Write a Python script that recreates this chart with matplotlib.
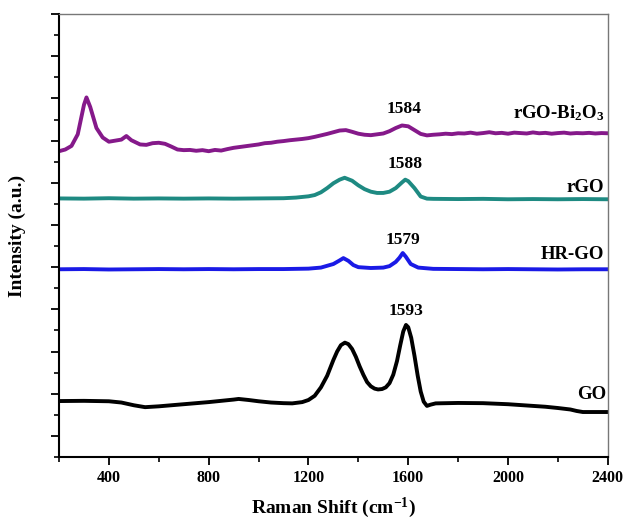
import matplotlib
matplotlib.use("Agg")
import matplotlib.pyplot as plt
from matplotlib.ticker import MultipleLocator

plt.rcParams['font.family'] = ['Liberation Serif', 'DejaVu Serif']
plt.rcParams['font.weight'] = 'bold'
plt.rcParams['mathtext.fontset'] = 'custom'
plt.rcParams['mathtext.rm'] = 'Liberation Serif:bold'
plt.rcParams['mathtext.it'] = 'Liberation Serif:bold'
plt.rcParams['mathtext.bf'] = 'Liberation Serif:bold'

# GO
go_x = [200, 300, 400, 450, 500, 545, 600, 700, 800, 900, 920, 960, 1000, 1050,
        1100, 1135, 1175, 1200, 1225, 1250, 1275, 1290, 1300, 1315, 1330, 1346,
        1360, 1375, 1390, 1405, 1420, 1435, 1450, 1465, 1479, 1495, 1510, 1525,
        1540, 1555, 1568, 1580, 1591, 1600, 1612, 1625, 1638, 1650, 1662, 1675,
        1690, 1710, 1800, 1900, 2000, 2100, 2150, 2200, 2250, 2275, 2300, 2400]
go_y = [2.65, 2.66, 2.64, 2.58, 2.45, 2.36, 2.40, 2.50, 2.60, 2.72, 2.75, 2.70,
        2.64, 2.58, 2.55, 2.54, 2.60, 2.70, 2.90, 3.30, 3.85, 4.30, 4.60, 5.00,
        5.30, 5.42, 5.35, 5.12, 4.75, 4.30, 3.90, 3.55, 3.35, 3.24, 3.20, 3.22,
        3.30, 3.50, 3.90, 4.55, 5.30, 5.95, 6.26, 6.15, 5.65, 4.80, 3.85, 3.10,
        2.62, 2.42, 2.48, 2.54, 2.56, 2.55, 2.50, 2.42, 2.38, 2.32, 2.25, 2.18,
        2.13, 2.13]

# HR-GO
hrgo_x = [200, 300, 400, 500, 600, 700, 800, 900, 1000, 1100, 1200, 1250, 1300,
          1325, 1340, 1360, 1380, 1400, 1450, 1500, 1525, 1550, 1565, 1578, 1590,
          1610, 1640, 1700, 1800, 1900, 2000, 2100, 2200, 2300, 2400]
hrgo_y = [8.90, 8.91, 8.89, 8.90, 8.91, 8.90, 8.91, 8.90, 8.91, 8.91, 8.93, 8.98,
          9.15, 9.32, 9.43, 9.30, 9.10, 9.00, 8.96, 8.98, 9.05, 9.25, 9.45, 9.67,
          9.50, 9.15, 8.98, 8.92, 8.91, 8.90, 8.91, 8.90, 8.89, 8.90, 8.90]

# rGO
rgo_x = [200, 300, 400, 500, 600, 700, 800, 900, 1000, 1100, 1150, 1200, 1225,
         1250, 1275, 1300, 1325, 1345, 1375, 1400, 1425, 1450, 1475, 1500, 1525,
         1550, 1575, 1588, 1600, 1625, 1650, 1675, 1700, 1800, 1900, 2000, 2100,
         2200, 2300, 2400]
rgo_y = [12.26, 12.25, 12.27, 12.25, 12.26, 12.25, 12.26, 12.25, 12.26, 12.27,
         12.30, 12.36, 12.42, 12.55, 12.75, 12.98, 13.15, 13.24, 13.10, 12.88,
         12.70, 12.58, 12.52, 12.52, 12.58, 12.75, 13.02, 13.15, 13.08, 12.75,
         12.35, 12.25, 12.24, 12.23, 12.24, 12.22, 12.23, 12.22, 12.23, 12.22]

# rGO-Bi2O3
bi_x = [200, 225, 250, 275, 300, 310, 325, 350, 375, 400, 425, 450, 470, 490,
        525, 550, 575, 600, 625, 650, 675, 700, 725, 750, 775, 800, 825, 850,
        875, 900, 925, 950, 975, 1000, 1025, 1050, 1075, 1100, 1125, 1150, 1175,
        1200, 1225, 1250, 1275, 1300, 1325, 1350, 1375, 1400, 1425, 1450, 1475,
        1500, 1525, 1550, 1575, 1600, 1625, 1650, 1675, 1700, 1725, 1750, 1775,
        1800, 1825, 1850, 1875, 1900, 1925, 1950, 1975, 2000, 2025, 2050, 2075,
        2100, 2125, 2150, 2175, 2200, 2225, 2250, 2275, 2300, 2325, 2350, 2375,
        2400]
bi_y = [14.50, 14.58, 14.75, 15.30, 16.70, 17.05, 16.60, 15.60, 15.15, 14.95,
        15.00, 15.05, 15.22, 15.02, 14.82, 14.80, 14.88, 14.90, 14.85, 14.72,
        14.58, 14.55, 14.56, 14.52, 14.55, 14.50, 14.56, 14.53, 14.60, 14.66,
        14.70, 14.74, 14.78, 14.82, 14.88, 14.90, 14.95, 14.98, 15.02, 15.05,
        15.08, 15.12, 15.18, 15.25, 15.32, 15.40, 15.48, 15.50, 15.42, 15.33,
        15.28, 15.26, 15.30, 15.34, 15.45, 15.60, 15.72, 15.68, 15.50, 15.32,
        15.25, 15.28, 15.30, 15.33, 15.31, 15.35, 15.34, 15.38, 15.33, 15.36,
        15.40, 15.35, 15.37, 15.33, 15.38, 15.36, 15.34, 15.39, 15.35, 15.37,
        15.33, 15.36, 15.38, 15.34, 15.36, 15.35, 15.37, 15.34, 15.36, 15.35]

fig = plt.figure(figsize=(6.24, 5.24), dpi=100)
ax = fig.add_axes([0.0946, 0.128, 0.8794, 0.845])

ax.plot(go_x, go_y, color='black', lw=2.8)
ax.plot(hrgo_x, hrgo_y, color='#1a1ae6', lw=2.8)
ax.plot(rgo_x, rgo_y, color='#1e8a82', lw=2.8)
ax.plot(bi_x, bi_y, color='#85198a', lw=2.8)

ax.set_xlim(200, 2400)
ax.set_ylim(0, 21)
ax.xaxis.set_major_locator(MultipleLocator(400))
ax.xaxis.set_minor_locator(MultipleLocator(200))
ax.set_xticks([400, 800, 1200, 1600, 2000, 2400])
ax.yaxis.set_major_locator(MultipleLocator(2, offset=1))
ax.yaxis.set_minor_locator(MultipleLocator(2))
ax.set_yticklabels([])
ax.tick_params(which='major', direction='out', length=6, width=1.3, labelsize=11.5)
ax.tick_params(which='minor', direction='out', length=3.5, width=1.2)

for s in ['top', 'right']:
    ax.spines[s].set_color('#777777')
    ax.spines[s].set_linewidth(1.0)
for s in ['left', 'bottom']:
    ax.spines[s].set_linewidth(1.5)

ax.set_xlabel(r'Raman Shift (cm$^{-1}$)', fontsize=14, fontweight='bold', labelpad=7)
ax.set_ylabel('Intensity (a.u.)', fontsize=14, fontweight='bold', labelpad=14)

fs = 12.5
ns = 13.5
ax.text(1584, 16.5, '1584', ha='center', va='center', fontsize=fs)
ax.text(2385, 16.3, r'rGO-Bi$_2$O$_3$', ha='right', va='center', fontsize=ns)
ax.text(1588, 13.9, '1588', ha='center', va='center', fontsize=fs)
ax.text(2385, 12.8, 'rGO', ha='right', va='center', fontsize=ns)
ax.text(1579, 10.3, '1579', ha='center', va='center', fontsize=fs)
ax.text(2385, 9.6, 'HR-GO', ha='right', va='center', fontsize=ns)
ax.text(1593, 6.9, '1593', ha='center', va='center', fontsize=fs)
ax.text(2395, 2.95, 'GO', ha='right', va='center', fontsize=ns)

fig.savefig('out.png', dpi=100)
